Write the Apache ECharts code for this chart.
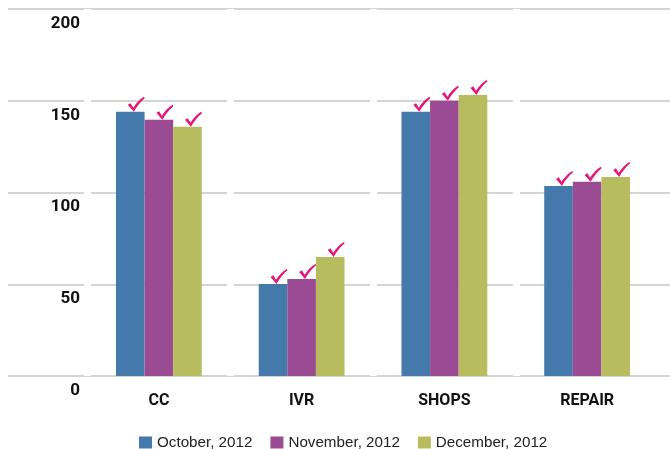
<!DOCTYPE html>
<html>
<head>
<meta charset="utf-8">
<script src="https://cdn.jsdelivr.net/npm/echarts@6/dist/echarts.min.js"></script>
<style>html,body{margin:0;padding:0;background:#fff}#c{width:670px;height:449px}</style>
</head>
<body>
<div id="c"></div>
<script>
const categories = ['CC', 'IVR', 'SHOPS', 'REPAIR'];
const seriesNames = ['October, 2012', 'November, 2012', 'December, 2012'];
const october = [144, 50.2, 144, 103.6];
const november = [139.6, 52.9, 150, 105.8];
const december = [135.8, 64.9, 153.2, 108.5];
const yTicks = [0, 50, 100, 150, 200];
const colors = ['#4479ac', '#9b4b93', '#b7bd5e'];

const checkPath = 'path://M0,7.5 L2.6,6 L5.2,10.2 C8,5.5 11.5,2 15.2,0 L16,1.3 C12,4.5 8.8,8.5 5.6,14 Z';

const chart = echarts.init(document.getElementById('c'), null, {renderer: 'canvas'});
const allData = [october, november, december];

const series = allData.map((vals, k) => ({
  name: seriesNames[k],
  type: 'bar',
  xAxisIndex: 0,
  yAxisIndex: 0,
  barWidth: 28.6,
  barGap: '0%',
  itemStyle: {color: colors[k]},
  data: vals,
  markPoint: {
    symbol: checkPath,
    symbolSize: [17, 15],
    symbolOffset: [6, -7.5],
    itemStyle: {color: '#e5157a'},
    label: {show: false},
    silent: true,
    animation: false,
    data: vals.map((v, i) => ({coord: [categories[i], v]}))
  }
}));

chart.setOption({
  animation: false,
  textStyle: {fontFamily: 'Liberation Sans'},
  grid: [
    {left: 87.5, right: 11.5, top: 9, bottom: 73},
    {left: 8, right: 0, top: 9, bottom: 73}
  ],
  legend: {
    data: seriesNames,
    left: 134,
    top: 430,
    icon: 'rect',
    itemWidth: 13,
    itemHeight: 12,
    itemGap: 18,
    textStyle: {fontFamily: 'Liberation Sans', fontSize: 15.2, color: '#222'}
  },
  xAxis: [
    {
      type: 'category', gridIndex: 0, data: categories, z: 1,
      axisLine: {show: false}, axisTick: {show: false},
      axisLabel: {fontFamily: 'Roboto', fontWeight: 'bold', fontSize: 16, color: '#111', margin: 17},
      splitLine: {show: true, showMaxLine: false, lineStyle: {color: '#ffffff', width: 7}}
    },
    {
      type: 'value', gridIndex: 1, min: 0, max: 1, show: false
    }
  ],
  yAxis: [
    {
      type: 'value', gridIndex: 0, min: yTicks[0], max: yTicks[yTicks.length - 1], interval: 50,
      axisLine: {show: false}, axisTick: {show: false}, splitLine: {show: false},
      axisLabel: {fontFamily: 'Roboto', fontWeight: 'bold', fontSize: 17, color: '#111', margin: 7.5,
        verticalAlign: 'top', padding: [6, 0, 0, 0]}
    },
    {
      type: 'value', gridIndex: 1, min: yTicks[0], max: yTicks[yTicks.length - 1], interval: 50, z: 0,
      axisLine: {show: false}, axisTick: {show: false}, axisLabel: {show: false},
      splitLine: {show: true, lineStyle: {color: '#d4d4d4', width: 2}}
    }
  ],
  series: series
});
</script>
</body>
</html>
